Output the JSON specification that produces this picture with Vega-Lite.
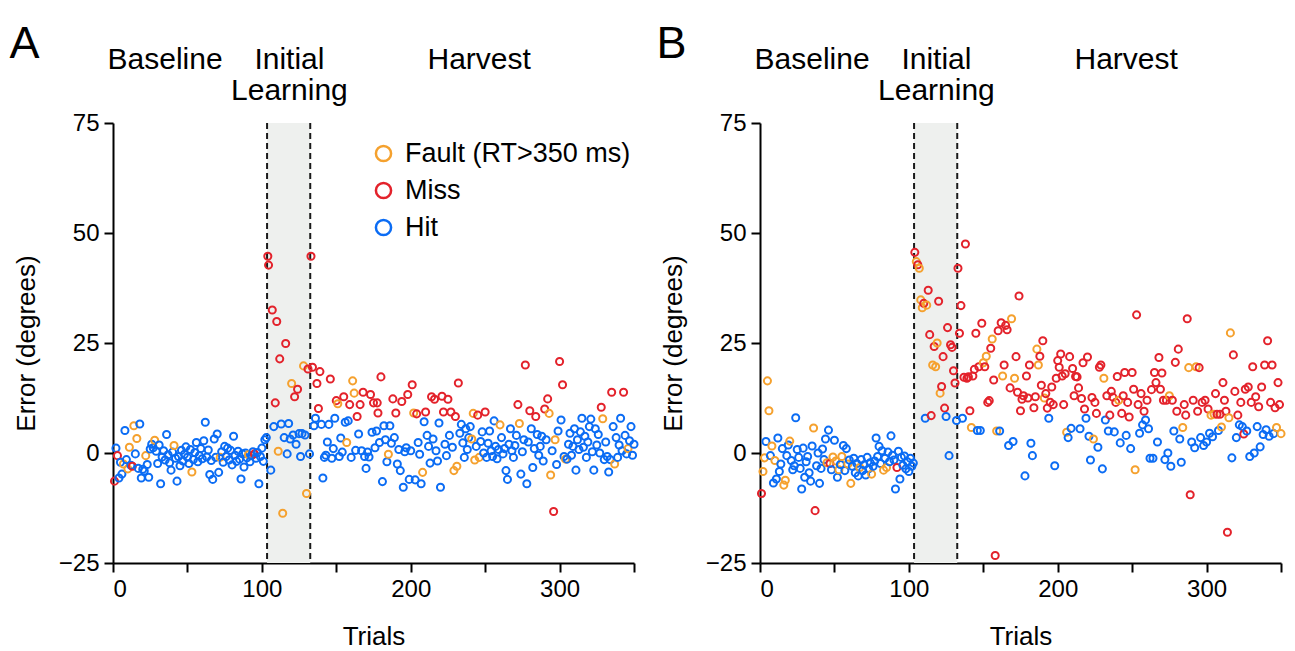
{
"$schema": "https://vega.github.io/schema/vega-lite/v6.json",
"padding": {"left": 9, "top": 21, "right": 10, "bottom": 5},
"config": {
  "font": "Liberation Sans",
  "view": {"stroke": null},
  "axis": {"domainColor": "black", "domainWidth": 2, "tickColor": "black", "tickWidth": 2, "tickSize": 9, "labelFont": "Liberation Sans", "labelFontSize": 24, "labelColor": "black", "titleFont": "Liberation Sans", "titleFontSize": 26, "titleColor": "black", "titleFontWeight": "normal", "grid": false, "labelPadding": 5},
  "axisY": {"titlePadding": 19},
  "axisX": {"titlePadding": 22},
  "legend": {"labelFont": "Liberation Sans", "labelFontSize": 27, "labelColor": "black", "labelLimit": 0, "symbolType": "circle", "symbolSize": 230, "symbolStrokeWidth": 2.5, "rowPadding": 9, "labelOffset": 8, "padding": 0}
},
"datasets": {
"A": [
{"t":1,"e":-6.4,"c":"M"},{"t":2,"e":1.1,"c":"H"},{"t":3,"e":-0.6,"c":"M"},{"t":4,"e":-5.7,"c":"H"},{"t":5,"e":-2.1,"c":"H"},{"t":6,"e":-4.8,"c":"H"},{"t":7,"e":-2.5,"c":"F"},{"t":8,"e":5.1,"c":"H"},{"t":9,"e":-1.5,"c":"H"},{"t":10,"e":-3.6,"c":"F"},
{"t":11,"e":1.3,"c":"F"},{"t":12,"e":-2.8,"c":"H"},{"t":13,"e":-3.0,"c":"M"},{"t":14,"e":6.2,"c":"F"},{"t":15,"e":-0.2,"c":"H"},{"t":16,"e":3.3,"c":"F"},{"t":17,"e":-3.5,"c":"H"},{"t":18,"e":6.6,"c":"H"},{"t":19,"e":-5.7,"c":"H"},{"t":20,"e":-3.7,"c":"H"},
{"t":21,"e":-4.1,"c":"H"},{"t":22,"e":-0.6,"c":"F"},{"t":23,"e":-2.6,"c":"H"},{"t":24,"e":-5.5,"c":"H"},{"t":25,"e":0.9,"c":"H"},{"t":26,"e":2.0,"c":"H"},{"t":27,"e":1.2,"c":"H"},{"t":28,"e":2.9,"c":"F"},{"t":29,"e":0.4,"c":"H"},{"t":30,"e":-2.4,"c":"H"},
{"t":31,"e":1.8,"c":"H"},{"t":32,"e":-7.0,"c":"H"},{"t":33,"e":-0.9,"c":"H"},{"t":34,"e":0.5,"c":"H"},{"t":35,"e":-1.6,"c":"H"},{"t":36,"e":4.2,"c":"H"},{"t":37,"e":-0.4,"c":"H"},{"t":38,"e":-2.2,"c":"H"},{"t":39,"e":-3.9,"c":"H"},{"t":40,"e":0.2,"c":"H"},
{"t":41,"e":1.7,"c":"F"},{"t":42,"e":-1.2,"c":"H"},{"t":43,"e":-6.4,"c":"H"},{"t":44,"e":-0.8,"c":"H"},{"t":45,"e":-2.9,"c":"H"},{"t":46,"e":0.6,"c":"H"},{"t":47,"e":-1.8,"c":"H"},{"t":48,"e":-0.3,"c":"H"},{"t":49,"e":1.4,"c":"H"},{"t":50,"e":-1.0,"c":"H"},
{"t":51,"e":-2.4,"c":"H"},{"t":52,"e":0.8,"c":"H"},{"t":53,"e":-4.3,"c":"F"},{"t":54,"e":-1.5,"c":"H"},{"t":55,"e":0.1,"c":"H"},{"t":56,"e":2.4,"c":"H"},{"t":57,"e":-2.0,"c":"H"},{"t":58,"e":-0.6,"c":"H"},{"t":59,"e":1.0,"c":"H"},{"t":60,"e":-1.3,"c":"H"},
{"t":61,"e":2.8,"c":"H"},{"t":62,"e":7.0,"c":"H"},{"t":63,"e":-0.9,"c":"H"},{"t":64,"e":0.7,"c":"H"},{"t":65,"e":-4.9,"c":"H"},{"t":66,"e":-1.7,"c":"H"},{"t":67,"e":-6.0,"c":"H"},{"t":68,"e":3.2,"c":"H"},{"t":69,"e":-1.0,"c":"H"},{"t":70,"e":4.3,"c":"H"},
{"t":71,"e":-4.4,"c":"H"},{"t":72,"e":-1.0,"c":"F"},{"t":73,"e":0.3,"c":"H"},{"t":74,"e":-2.1,"c":"H"},{"t":75,"e":1.5,"c":"H"},{"t":76,"e":-0.8,"c":"H"},{"t":77,"e":1.1,"c":"H"},{"t":78,"e":-1.6,"c":"H"},{"t":79,"e":0.6,"c":"H"},{"t":80,"e":-2.7,"c":"H"},
{"t":81,"e":3.8,"c":"H"},{"t":82,"e":-0.5,"c":"H"},{"t":83,"e":-1.9,"c":"H"},{"t":84,"e":0.4,"c":"H"},{"t":85,"e":-1.4,"c":"H"},{"t":86,"e":-5.9,"c":"H"},{"t":87,"e":-0.2,"c":"H"},{"t":88,"e":-3.2,"c":"H"},{"t":89,"e":0.0,"c":"H"},{"t":90,"e":-1.1,"c":"H"},
{"t":91,"e":-0.4,"c":"F"},{"t":92,"e":-2.0,"c":"H"},{"t":93,"e":-0.6,"c":"H"},{"t":94,"e":0.3,"c":"H"},{"t":95,"e":-0.2,"c":"M"},{"t":96,"e":-1.2,"c":"H"},{"t":97,"e":0.1,"c":"H"},{"t":98,"e":-7.0,"c":"H"},{"t":99,"e":-0.8,"c":"H"},{"t":100,"e":1.1,"c":"H"},
{"t":101,"e":-1.9,"c":"H"},{"t":102,"e":3.0,"c":"H"},{"t":103,"e":3.5,"c":"H"},
{"t":104,"e":44.7,"c":"M"},{"t":104.5,"e":42.7,"c":"M"},{"t":106,"e":-3.9,"c":"H"},{"t":107,"e":32.5,"c":"M"},{"t":108,"e":6.0,"c":"H"},{"t":109,"e":11.4,"c":"M"},{"t":110,"e":29.9,"c":"M"},{"t":111,"e":0.4,"c":"F"},{"t":112,"e":21.4,"c":"M"},{"t":113,"e":6.6,"c":"H"},
{"t":114,"e":-13.7,"c":"F"},{"t":115,"e":3.5,"c":"H"},{"t":116,"e":24.9,"c":"M"},{"t":117,"e":-0.2,"c":"H"},{"t":118,"e":6.7,"c":"H"},{"t":119,"e":3.2,"c":"H"},{"t":120,"e":15.8,"c":"F"},{"t":121,"e":4.1,"c":"H"},{"t":122,"e":12.8,"c":"M"},{"t":123,"e":2.0,"c":"H"},
{"t":124,"e":14.5,"c":"M"},{"t":125,"e":4.4,"c":"H"},{"t":126,"e":-0.8,"c":"H"},{"t":127,"e":4.4,"c":"H"},{"t":128,"e":19.8,"c":"F"},{"t":129,"e":4.1,"c":"H"},{"t":130,"e":-9.2,"c":"F"},{"t":131,"e":19.1,"c":"M"},{"t":132,"e":-0.2,"c":"H"},{"t":133,"e":44.7,"c":"M"},
{"t":134,"e":19.5,"c":"M"},{"t":135,"e":6.2,"c":"H"},{"t":136,"e":7.9,"c":"H"},{"t":137,"e":15.8,"c":"M"},{"t":138,"e":10.1,"c":"M"},{"t":139,"e":18.5,"c":"M"},{"t":140,"e":6.5,"c":"H"},{"t":141,"e":-5.7,"c":"H"},{"t":142,"e":-1.0,"c":"H"},{"t":143,"e":-0.5,"c":"H"},
{"t":144,"e":2.5,"c":"H"},{"t":145,"e":6.5,"c":"H"},{"t":146,"e":16.8,"c":"M"},{"t":147,"e":-1.2,"c":"H"},{"t":148,"e":1.0,"c":"H"},{"t":149,"e":7.9,"c":"H"},{"t":150,"e":11.9,"c":"M"},{"t":151,"e":11.2,"c":"F"},{"t":152,"e":-0.8,"c":"H"},{"t":153,"e":3.4,"c":"H"},
{"t":154,"e":0.2,"c":"H"},{"t":155,"e":12.8,"c":"M"},{"t":156,"e":7.0,"c":"H"},{"t":157,"e":2.4,"c":"F"},{"t":158,"e":7.3,"c":"H"},{"t":159,"e":11.0,"c":"M"},{"t":160,"e":-1.0,"c":"H"},{"t":161,"e":16.4,"c":"F"},{"t":162,"e":13.6,"c":"F"},{"t":163,"e":0.6,"c":"H"},
{"t":164,"e":8.3,"c":"M"},{"t":165,"e":4.3,"c":"H"},{"t":166,"e":11.0,"c":"M"},{"t":167,"e":0.5,"c":"H"},{"t":168,"e":13.8,"c":"M"},{"t":169,"e":-0.8,"c":"H"},{"t":170,"e":-3.5,"c":"H"},{"t":171,"e":0.2,"c":"H"},{"t":172,"e":-0.9,"c":"H"},{"t":173,"e":13.3,"c":"M"},
{"t":174,"e":4.7,"c":"H"},{"t":175,"e":11.4,"c":"M"},{"t":176,"e":1.2,"c":"H"},{"t":177,"e":5.0,"c":"H"},{"t":177.5,"e":11.4,"c":"M"},{"t":178,"e":9.1,"c":"M"},{"t":179,"e":2.4,"c":"H"},{"t":180,"e":17.3,"c":"M"},{"t":181,"e":-6.5,"c":"H"},{"t":182,"e":6.2,"c":"H"},
{"t":183,"e":3.0,"c":"H"},{"t":184,"e":-2.0,"c":"H"},{"t":185,"e":-0.3,"c":"F"},{"t":186,"e":6.2,"c":"H"},{"t":187,"e":2.2,"c":"H"},{"t":188,"e":12.3,"c":"M"},{"t":189,"e":3.5,"c":"H"},{"t":190,"e":9.1,"c":"M"},{"t":191,"e":-2.5,"c":"H"},{"t":192,"e":0.8,"c":"H"},
{"t":193,"e":-4.0,"c":"H"},{"t":194,"e":11.7,"c":"M"},{"t":195,"e":-7.8,"c":"H"},{"t":196,"e":0.3,"c":"H"},{"t":197,"e":1.2,"c":"H"},{"t":198,"e":13.3,"c":"M"},{"t":199,"e":-6.0,"c":"H"},{"t":200,"e":0.5,"c":"H"},{"t":201,"e":15.5,"c":"M"},{"t":202,"e":9.1,"c":"F"},
{"t":203,"e":-6.1,"c":"H"},{"t":204,"e":8.9,"c":"M"},{"t":205,"e":2.4,"c":"H"},{"t":206,"e":-0.3,"c":"H"},{"t":207,"e":-7.0,"c":"H"},{"t":208,"e":-4.4,"c":"F"},{"t":209,"e":7.1,"c":"H"},{"t":210,"e":9.3,"c":"M"},{"t":211,"e":4.0,"c":"H"},{"t":212,"e":1.5,"c":"H"},
{"t":213,"e":-2.3,"c":"H"},{"t":214,"e":12.8,"c":"M"},{"t":215,"e":3.2,"c":"H"},{"t":216,"e":12.2,"c":"M"},{"t":217,"e":0.5,"c":"H"},{"t":218,"e":-1.8,"c":"H"},{"t":219,"e":6.8,"c":"H"},{"t":220,"e":-7.8,"c":"H"},{"t":221,"e":12.9,"c":"M"},{"t":222,"e":9.3,"c":"M"},
{"t":223,"e":2.0,"c":"H"},{"t":224,"e":-0.6,"c":"H"},{"t":225,"e":12.2,"c":"M"},{"t":226,"e":4.0,"c":"H"},{"t":227,"e":9.3,"c":"M"},{"t":228,"e":1.3,"c":"H"},{"t":229,"e":-4.0,"c":"F"},{"t":230,"e":8.3,"c":"M"},{"t":231,"e":-3.0,"c":"F"},{"t":232,"e":15.9,"c":"M"},
{"t":233,"e":4.5,"c":"H"},{"t":234,"e":6.5,"c":"H"},{"t":235,"e":2.3,"c":"H"},{"t":236,"e":-1.0,"c":"H"},{"t":237,"e":5.5,"c":"H"},{"t":238,"e":0.8,"c":"H"},{"t":239,"e":3.5,"c":"H"},{"t":240,"e":6.0,"c":"H"},{"t":241,"e":3.2,"c":"F"},{"t":242,"e":9.0,"c":"F"},
{"t":243,"e":-1.6,"c":"F"},{"t":244,"e":1.5,"c":"H"},{"t":245,"e":8.6,"c":"M"},{"t":246,"e":-1.0,"c":"F"},{"t":247,"e":2.6,"c":"H"},{"t":248,"e":4.8,"c":"H"},{"t":249,"e":0.0,"c":"H"},{"t":250,"e":9.3,"c":"M"},{"t":251,"e":-1.0,"c":"H"},{"t":252,"e":2.2,"c":"H"},
{"t":253,"e":5.0,"c":"H"},{"t":254,"e":0.5,"c":"H"},{"t":255,"e":-0.8,"c":"H"},{"t":256,"e":7.3,"c":"H"},{"t":257,"e":1.5,"c":"H"},{"t":258,"e":-1.3,"c":"H"},{"t":259,"e":0.8,"c":"H"},{"t":260,"e":6.4,"c":"F"},{"t":261,"e":3.5,"c":"H"},{"t":262,"e":-0.2,"c":"H"},
{"t":263,"e":1.0,"c":"H"},{"t":264,"e":-4.0,"c":"H"},{"t":265,"e":-6.0,"c":"H"},{"t":266,"e":2.0,"c":"H"},{"t":267,"e":5.5,"c":"H"},{"t":268,"e":0.5,"c":"H"},{"t":269,"e":-1.0,"c":"H"},{"t":270,"e":1.7,"c":"H"},{"t":271,"e":4.0,"c":"H"},{"t":272,"e":11.0,"c":"M"},
{"t":273,"e":6.7,"c":"F"},{"t":274,"e":-4.8,"c":"H"},{"t":275,"e":0.3,"c":"H"},{"t":276,"e":3.0,"c":"H"},{"t":277,"e":20.0,"c":"M"},{"t":278,"e":-7.0,"c":"H"},{"t":279,"e":2.5,"c":"H"},{"t":280,"e":9.6,"c":"M"},{"t":281,"e":5.5,"c":"H"},{"t":282,"e":-3.3,"c":"H"},
{"t":283,"e":1.0,"c":"H"},{"t":284,"e":8.3,"c":"M"},{"t":285,"e":4.2,"c":"H"},{"t":286,"e":-0.5,"c":"H"},{"t":287,"e":1.5,"c":"H"},{"t":288,"e":3.8,"c":"H"},{"t":289,"e":-1.8,"c":"H"},{"t":290,"e":10.0,"c":"M"},{"t":291,"e":3.0,"c":"H"},{"t":292,"e":12.3,"c":"M"},
{"t":293,"e":9.0,"c":"F"},{"t":294,"e":-5.0,"c":"F"},{"t":295,"e":0.5,"c":"H"},{"t":296,"e":-13.3,"c":"M"},{"t":297,"e":3.0,"c":"F"},{"t":298,"e":-2.6,"c":"H"},{"t":299,"e":5.0,"c":"H"},{"t":300,"e":20.8,"c":"M"},{"t":301,"e":7.5,"c":"H"},{"t":302,"e":15.5,"c":"M"},
{"t":303,"e":-0.8,"c":"H"},{"t":304,"e":-1.4,"c":"F"},{"t":305,"e":-1.4,"c":"H"},{"t":306,"e":2.0,"c":"H"},{"t":307,"e":4.5,"c":"H"},{"t":308,"e":-0.5,"c":"H"},{"t":309,"e":1.5,"c":"H"},{"t":310,"e":5.5,"c":"H"},{"t":311,"e":-3.9,"c":"H"},{"t":312,"e":3.0,"c":"H"},
{"t":313,"e":0.8,"c":"H"},{"t":314,"e":4.8,"c":"H"},{"t":315,"e":7.9,"c":"H"},{"t":316,"e":1.3,"c":"H"},{"t":317,"e":3.8,"c":"H"},{"t":318,"e":-1.0,"c":"H"},{"t":319,"e":2.5,"c":"H"},{"t":320,"e":6.0,"c":"H"},{"t":321,"e":7.7,"c":"H"},{"t":322,"e":0.3,"c":"H"},
{"t":323,"e":-3.9,"c":"H"},{"t":324,"e":5.5,"c":"H"},{"t":325,"e":1.8,"c":"H"},{"t":326,"e":4.2,"c":"H"},{"t":327,"e":0.0,"c":"H"},{"t":328,"e":10.4,"c":"M"},{"t":329,"e":7.8,"c":"F"},{"t":330,"e":-1.5,"c":"H"},{"t":331,"e":2.5,"c":"H"},{"t":332,"e":-0.8,"c":"H"},
{"t":333,"e":-4.3,"c":"H"},{"t":334,"e":-1.5,"c":"H"},{"t":335,"e":13.8,"c":"M"},{"t":336,"e":6.0,"c":"H"},{"t":337,"e":-2.5,"c":"F"},{"t":338,"e":3.5,"c":"H"},{"t":339,"e":-1.0,"c":"H"},{"t":340,"e":1.8,"c":"H"},{"t":341,"e":7.9,"c":"H"},{"t":342,"e":0.5,"c":"H"},
{"t":343,"e":13.8,"c":"M"},{"t":344,"e":4.0,"c":"H"},{"t":345,"e":-0.2,"c":"H"},{"t":346,"e":1.0,"c":"F"},{"t":347,"e":2.8,"c":"H"},{"t":348,"e":6.0,"c":"H"},{"t":349,"e":-0.5,"c":"H"},{"t":350,"e":2.0,"c":"H"}
],
"B": [
{"t":1,"e":-9.2,"c":"M"},{"t":2,"e":-4.2,"c":"F"},{"t":3,"e":-1.1,"c":"F"},{"t":4,"e":2.6,"c":"H"},{"t":5,"e":16.4,"c":"F"},{"t":6,"e":9.6,"c":"F"},{"t":7,"e":-0.6,"c":"H"},{"t":8,"e":1.6,"c":"F"},{"t":9,"e":-6.8,"c":"H"},{"t":10,"e":-1.7,"c":"F"},
{"t":11,"e":-5.9,"c":"H"},{"t":12,"e":3.4,"c":"H"},{"t":13,"e":-4.2,"c":"H"},{"t":14,"e":-2.5,"c":"H"},{"t":15,"e":1.0,"c":"H"},{"t":16,"e":-7.3,"c":"F"},{"t":17,"e":-6.2,"c":"F"},{"t":18,"e":-0.6,"c":"H"},{"t":19,"e":1.8,"c":"H"},{"t":20,"e":2.7,"c":"F"},
{"t":21,"e":-1.7,"c":"H"},{"t":22,"e":-3.8,"c":"H"},{"t":23,"e":-2.9,"c":"H"},{"t":24,"e":8.0,"c":"H"},{"t":25,"e":0.8,"c":"H"},{"t":26,"e":-1.0,"c":"H"},{"t":27,"e":-3.5,"c":"H"},{"t":28,"e":-8.2,"c":"H"},{"t":29,"e":1.1,"c":"H"},{"t":30,"e":-5.5,"c":"H"},
{"t":31,"e":-2.0,"c":"H"},{"t":32,"e":-0.8,"c":"H"},{"t":33,"e":-4.5,"c":"H"},{"t":34,"e":-6.4,"c":"H"},{"t":35,"e":1.6,"c":"H"},{"t":36,"e":5.7,"c":"F"},{"t":37,"e":-13.1,"c":"M"},{"t":38,"e":-2.9,"c":"H"},{"t":39,"e":0.0,"c":"H"},{"t":40,"e":-6.9,"c":"H"},
{"t":41,"e":-3.5,"c":"H"},{"t":42,"e":0.9,"c":"H"},{"t":43,"e":-1.5,"c":"H"},{"t":44,"e":3.2,"c":"H"},{"t":45,"e":-2.2,"c":"F"},{"t":46,"e":5.2,"c":"H"},{"t":47,"e":-2.4,"c":"M"},{"t":48,"e":-3.8,"c":"H"},{"t":49,"e":-0.9,"c":"F"},{"t":50,"e":2.9,"c":"H"},
{"t":51,"e":-1.8,"c":"F"},{"t":52,"e":-5.5,"c":"H"},{"t":53,"e":-3.8,"c":"F"},{"t":54,"e":-2.6,"c":"H"},{"t":55,"e":-0.8,"c":"F"},{"t":56,"e":1.7,"c":"H"},{"t":57,"e":-4.0,"c":"H"},{"t":58,"e":1.0,"c":"H"},{"t":59,"e":-2.5,"c":"F"},{"t":60,"e":-1.6,"c":"H"},
{"t":61,"e":-6.9,"c":"F"},{"t":62,"e":-3.0,"c":"H"},{"t":63,"e":-1.2,"c":"H"},{"t":64,"e":-4.5,"c":"H"},{"t":65,"e":-2.4,"c":"H"},{"t":66,"e":-5.2,"c":"H"},{"t":67,"e":-3.3,"c":"F"},{"t":68,"e":-1.5,"c":"H"},{"t":69,"e":-4.0,"c":"H"},{"t":70,"e":-2.7,"c":"H"},
{"t":71,"e":-5.0,"c":"H"},{"t":72,"e":-1.0,"c":"H"},{"t":73,"e":-3.6,"c":"H"},{"t":74,"e":-2.2,"c":"H"},{"t":75,"e":-4.8,"c":"F"},{"t":76,"e":-3.0,"c":"H"},{"t":77,"e":-1.8,"c":"H"},{"t":78,"e":3.4,"c":"H"},{"t":79,"e":-0.8,"c":"H"},{"t":80,"e":1.5,"c":"H"},
{"t":81,"e":-2.4,"c":"H"},{"t":82,"e":0.5,"c":"H"},{"t":83,"e":-3.9,"c":"F"},{"t":84,"e":-1.2,"c":"H"},{"t":85,"e":-3.3,"c":"F"},{"t":86,"e":0.2,"c":"H"},{"t":87,"e":-2.0,"c":"H"},{"t":88,"e":3.9,"c":"H"},{"t":89,"e":-0.5,"c":"H"},{"t":90,"e":-1.6,"c":"H"},
{"t":91,"e":-8.2,"c":"H"},{"t":92,"e":-3.3,"c":"M"},{"t":93,"e":0.4,"c":"H"},{"t":94,"e":-5.9,"c":"H"},{"t":95,"e":-1.0,"c":"H"},{"t":96,"e":-2.8,"c":"H"},{"t":97,"e":-0.7,"c":"H"},{"t":98,"e":-3.6,"c":"H"},{"t":99,"e":-2.0,"c":"H"},{"t":100,"e":-4.2,"c":"H"},
{"t":101,"e":-1.2,"c":"H"},{"t":102,"e":-3.0,"c":"H"},{"t":103,"e":-2.3,"c":"H"},
{"t":104,"e":45.6,"c":"M"},{"t":105,"e":43.5,"c":"F"},{"t":106,"e":42.8,"c":"M"},{"t":107,"e":42.0,"c":"F"},{"t":108,"e":34.8,"c":"F"},{"t":109,"e":33.0,"c":"F"},{"t":110,"e":34.0,"c":"M"},{"t":111,"e":7.9,"c":"H"},{"t":112,"e":33.6,"c":"F"},{"t":113,"e":37.0,"c":"M"},
{"t":114,"e":26.9,"c":"M"},{"t":115,"e":8.5,"c":"M"},{"t":116,"e":20.0,"c":"F"},{"t":117,"e":24.2,"c":"M"},{"t":118,"e":19.6,"c":"F"},{"t":119,"e":25.0,"c":"F"},{"t":120,"e":34.5,"c":"M"},{"t":121,"e":13.6,"c":"F"},{"t":122,"e":15.1,"c":"M"},{"t":123,"e":21.9,"c":"M"},
{"t":124,"e":10.2,"c":"M"},{"t":125,"e":8.3,"c":"H"},{"t":126,"e":28.5,"c":"M"},{"t":127,"e":-0.6,"c":"H"},{"t":128,"e":24.6,"c":"M"},{"t":129,"e":24.0,"c":"M"},{"t":130,"e":18.7,"c":"M"},{"t":131,"e":15.9,"c":"M"},{"t":132,"e":7.4,"c":"H"},{"t":133,"e":42.0,"c":"M"},
{"t":134,"e":27.2,"c":"M"},{"t":135,"e":33.5,"c":"M"},{"t":136,"e":7.9,"c":"H"},{"t":137,"e":17.2,"c":"M"},{"t":138,"e":47.5,"c":"M"},{"t":139,"e":17.0,"c":"M"},{"t":140,"e":17.3,"c":"M"},{"t":141,"e":9.6,"c":"M"},{"t":142,"e":5.8,"c":"F"},{"t":143,"e":17.5,"c":"M"},
{"t":144,"e":19.0,"c":"M"},{"t":145,"e":27.2,"c":"M"},{"t":146,"e":5.1,"c":"H"},{"t":147,"e":19.6,"c":"M"},{"t":148,"e":5.1,"c":"H"},{"t":149,"e":29.5,"c":"M"},{"t":150,"e":20.5,"c":"F"},{"t":151,"e":19.6,"c":"M"},{"t":152,"e":22.0,"c":"F"},{"t":153,"e":11.5,"c":"M"},
{"t":154,"e":11.9,"c":"M"},{"t":155,"e":23.8,"c":"M"},{"t":156,"e":25.9,"c":"F"},{"t":157,"e":16.6,"c":"M"},{"t":158,"e":-23.3,"c":"M"},{"t":159,"e":5.0,"c":"F"},{"t":160,"e":27.8,"c":"M"},{"t":161,"e":5.0,"c":"H"},{"t":162,"e":29.6,"c":"M"},{"t":163,"e":17.5,"c":"F"},
{"t":164,"e":20.0,"c":"M"},{"t":165,"e":29.0,"c":"M"},{"t":166,"e":28.0,"c":"M"},{"t":167,"e":1.7,"c":"H"},{"t":168,"e":14.8,"c":"M"},{"t":169,"e":30.5,"c":"F"},{"t":170,"e":2.6,"c":"H"},{"t":171,"e":17.0,"c":"F"},{"t":172,"e":21.9,"c":"M"},{"t":173,"e":13.8,"c":"M"},
{"t":174,"e":35.7,"c":"M"},{"t":175,"e":9.6,"c":"M"},{"t":176,"e":12.2,"c":"M"},{"t":177,"e":13.0,"c":"M"},{"t":178,"e":-5.2,"c":"H"},{"t":179,"e":17.5,"c":"M"},{"t":180,"e":12.5,"c":"M"},{"t":181,"e":20.0,"c":"M"},{"t":182,"e":2.2,"c":"H"},{"t":183,"e":-0.6,"c":"H"},
{"t":184,"e":10.3,"c":"M"},{"t":185,"e":12.8,"c":"M"},{"t":186,"e":23.6,"c":"F"},{"t":187,"e":20.0,"c":"F"},{"t":188,"e":22.0,"c":"M"},{"t":189,"e":15.4,"c":"M"},{"t":190,"e":25.5,"c":"M"},{"t":191,"e":12.5,"c":"F"},{"t":192,"e":13.5,"c":"M"},{"t":193,"e":10.2,"c":"M"},
{"t":194,"e":7.9,"c":"H"},{"t":195,"e":11.5,"c":"M"},{"t":196,"e":15.0,"c":"M"},{"t":197,"e":11.0,"c":"M"},{"t":198,"e":-2.9,"c":"H"},{"t":199,"e":17.0,"c":"M"},{"t":200,"e":21.0,"c":"M"},{"t":201,"e":19.5,"c":"M"},{"t":202,"e":22.5,"c":"M"},{"t":203,"e":17.5,"c":"M"},
{"t":204,"e":11.0,"c":"M"},{"t":205,"e":18.0,"c":"M"},{"t":206,"e":4.7,"c":"F"},{"t":207,"e":3.5,"c":"H"},{"t":208,"e":21.9,"c":"M"},{"t":209,"e":5.6,"c":"H"},{"t":210,"e":19.2,"c":"M"},{"t":211,"e":13.0,"c":"M"},{"t":212,"e":17.4,"c":"M"},{"t":213,"e":17.3,"c":"M"},
{"t":214,"e":14.8,"c":"M"},{"t":215,"e":5.5,"c":"H"},{"t":216,"e":12.4,"c":"M"},{"t":217,"e":20.5,"c":"M"},{"t":218,"e":10.0,"c":"M"},{"t":219,"e":7.9,"c":"H"},{"t":220,"e":21.8,"c":"M"},{"t":221,"e":3.8,"c":"H"},{"t":222,"e":-1.6,"c":"H"},{"t":223,"e":12.6,"c":"M"},
{"t":224,"e":3.2,"c":"F"},{"t":225,"e":11.5,"c":"M"},{"t":226,"e":9.0,"c":"M"},{"t":227,"e":1.3,"c":"H"},{"t":228,"e":19.5,"c":"M"},{"t":229,"e":20.0,"c":"M"},{"t":230,"e":-3.6,"c":"H"},{"t":231,"e":17.0,"c":"F"},{"t":232,"e":7.5,"c":"H"},{"t":233,"e":13.0,"c":"M"},
{"t":234,"e":5.0,"c":"H"},{"t":235,"e":8.6,"c":"M"},{"t":236,"e":14.0,"c":"M"},{"t":237,"e":12.7,"c":"M"},{"t":238,"e":4.8,"c":"H"},{"t":239,"e":11.5,"c":"M"},{"t":240,"e":17.4,"c":"M"},{"t":241,"e":12.0,"c":"F"},{"t":242,"e":2.3,"c":"H"},{"t":243,"e":9.0,"c":"M"},
{"t":244,"e":13.0,"c":"M"},{"t":245,"e":18.3,"c":"M"},{"t":246,"e":4.0,"c":"H"},{"t":247,"e":11.5,"c":"M"},{"t":248,"e":8.2,"c":"M"},{"t":249,"e":1.0,"c":"H"},{"t":250,"e":18.3,"c":"M"},{"t":251,"e":14.5,"c":"M"},{"t":252,"e":-3.8,"c":"F"},{"t":253,"e":31.4,"c":"M"},
{"t":254,"e":11.0,"c":"M"},{"t":255,"e":4.5,"c":"H"},{"t":256,"e":13.5,"c":"M"},{"t":257,"e":6.4,"c":"H"},{"t":258,"e":9.5,"c":"M"},{"t":259,"e":7.5,"c":"H"},{"t":260,"e":12.0,"c":"M"},{"t":261,"e":5.5,"c":"H"},{"t":262,"e":-1.2,"c":"H"},{"t":263,"e":14.4,"c":"M"},
{"t":264,"e":-1.2,"c":"H"},{"t":265,"e":18.3,"c":"M"},{"t":266,"e":16.0,"c":"M"},{"t":267,"e":2.5,"c":"H"},{"t":268,"e":21.7,"c":"M"},{"t":269,"e":14.5,"c":"M"},{"t":270,"e":18.2,"c":"M"},{"t":271,"e":12.0,"c":"M"},{"t":272,"e":-1.5,"c":"H"},{"t":273,"e":12.0,"c":"M"},
{"t":274,"e":0.0,"c":"H"},{"t":275,"e":13.0,"c":"F"},{"t":276,"e":-3.0,"c":"H"},{"t":277,"e":12.0,"c":"M"},{"t":278,"e":5.0,"c":"H"},{"t":279,"e":20.6,"c":"M"},{"t":280,"e":9.5,"c":"M"},{"t":281,"e":23.6,"c":"M"},{"t":282,"e":3.2,"c":"H"},{"t":283,"e":-2.1,"c":"H"},
{"t":284,"e":5.8,"c":"F"},{"t":285,"e":11.0,"c":"M"},{"t":286,"e":8.6,"c":"M"},{"t":287,"e":30.5,"c":"M"},{"t":288,"e":19.4,"c":"F"},{"t":289,"e":-9.5,"c":"M"},{"t":290,"e":2.5,"c":"H"},{"t":291,"e":12.0,"c":"M"},{"t":292,"e":1.2,"c":"H"},{"t":293,"e":19.6,"c":"F"},
{"t":294,"e":9.5,"c":"M"},{"t":295,"e":19.4,"c":"M"},{"t":296,"e":3.5,"c":"H"},{"t":297,"e":11.5,"c":"M"},{"t":298,"e":1.7,"c":"H"},{"t":299,"e":12.0,"c":"M"},{"t":300,"e":2.5,"c":"H"},{"t":301,"e":10.0,"c":"M"},{"t":302,"e":4.5,"c":"H"},{"t":303,"e":8.6,"c":"F"},
{"t":304,"e":3.7,"c":"H"},{"t":305,"e":8.8,"c":"F"},{"t":306,"e":13.5,"c":"M"},{"t":307,"e":8.8,"c":"M"},{"t":308,"e":5.1,"c":"H"},{"t":309,"e":8.8,"c":"M"},{"t":310,"e":5.9,"c":"F"},{"t":311,"e":16.0,"c":"M"},{"t":312,"e":12.0,"c":"M"},{"t":313,"e":9.5,"c":"M"},
{"t":314,"e":-18.0,"c":"M"},{"t":315,"e":8.0,"c":"F"},{"t":316,"e":27.3,"c":"F"},{"t":317,"e":-1.1,"c":"H"},{"t":318,"e":22.3,"c":"M"},{"t":319,"e":14.0,"c":"M"},{"t":320,"e":3.5,"c":"H"},{"t":321,"e":8.6,"c":"M"},{"t":322,"e":6.4,"c":"H"},{"t":323,"e":11.5,"c":"M"},
{"t":324,"e":6.0,"c":"H"},{"t":325,"e":4.3,"c":"M"},{"t":326,"e":14.5,"c":"M"},{"t":327,"e":5.0,"c":"H"},{"t":328,"e":15.0,"c":"M"},{"t":329,"e":-0.8,"c":"H"},{"t":330,"e":11.5,"c":"M"},{"t":331,"e":19.6,"c":"M"},{"t":332,"e":0.0,"c":"H"},{"t":333,"e":12.8,"c":"M"},
{"t":334,"e":6.0,"c":"H"},{"t":335,"e":10.5,"c":"M"},{"t":336,"e":1.4,"c":"H"},{"t":337,"e":15.0,"c":"M"},{"t":338,"e":4.2,"c":"H"},{"t":339,"e":20.0,"c":"M"},{"t":340,"e":5.3,"c":"H"},{"t":341,"e":25.5,"c":"M"},{"t":342,"e":3.8,"c":"H"},{"t":343,"e":11.5,"c":"M"},
{"t":344,"e":20.0,"c":"M"},{"t":345,"e":4.4,"c":"H"},{"t":346,"e":10.3,"c":"M"},{"t":347,"e":5.8,"c":"F"},{"t":348,"e":16.0,"c":"M"},{"t":349,"e":11.0,"c":"M"},{"t":350,"e":4.4,"c":"F"}
],
"phases": [
{"t":35,"y":87.3,"s":["Baseline"]},{"t":118.5,"y":87.3,"s":["Initial","Learning"]},{"t":246,"y":87.3,"s":["Harvest"]}
],
"shade": [{"a":103.5,"b":132.5}],
"lines": [{"x":103.5},{"x":132.5}]
},
"spacing": 126,
"bounds": "flush",
"resolve": {"scale": {"color": "independent"}},
"hconcat": [
{
 "width": 521, "height": 440,
 "encoding": {
  "x": {"type": "quantitative", "scale": {"domain": [0, 350], "nice": false, "zero": false}, "axis": {"values": [0, 50, 100, 150, 200, 250, 300, 350], "labelExpr": "datum.value % 100 === 0 ? datum.label : ''", "title": "Trials"}},
  "y": {"type": "quantitative", "scale": {"domain": [-25, 75], "nice": false, "zero": false}, "axis": {"values": [-25, 0, 25, 50, 75], "labelExpr": "datum.value < 0 ? '\u2212' + abs(datum.value) : datum.label", "title": "Error (degrees)"}}
 },
 "layer": [
  {"data": {"name": "shade"}, "mark": {"type": "rect", "color": "#eef0ee"},
   "encoding": {"x": {"field": "a"}, "x2": {"field": "b"}, "y": {"datum": 75}, "y2": {"datum": -25}}},
  {"data": {"name": "lines"}, "mark": {"type": "rule", "color": "#1a1a1a", "strokeWidth": 2, "strokeDash": [6, 4]},
   "encoding": {"x": {"field": "x"}, "y": {"datum": 75}, "y2": {"datum": -25}}},
  {"data": {"name": "A"}, "mark": {"type": "point", "filled": false, "size": 50, "strokeWidth": 2, "opacity": 1},
   "encoding": {
    "x": {"field": "t"},
    "y": {"field": "e"},
    "color": {"field": "c", "type": "nominal", "scale": {"domain": ["F", "M", "H"], "range": ["#f5a12e", "#e3222b", "#0b6cf4"]},
      "legend": {"title": null, "orient": "none", "legendX": 257, "legendY": 17, "labelExpr": "datum.label == 'F' ? 'Fault (RT>350 ms)' : datum.label == 'M' ? 'Miss' : 'Hit'"}}
   }},
  {"data": {"name": "phases"}, "mark": {"type": "text", "fontSize": 30, "baseline": "alphabetic", "align": "center", "color": "black", "lineHeight": 31},
   "encoding": {"x": {"field": "t"}, "y": {"field": "y"}, "text": {"field": "s"}}},
  {"data": {"values": [{"t": -59.5, "y": 89.8, "s": "A"}]}, "mark": {"type": "text", "fontSize": 45, "baseline": "alphabetic", "align": "center", "color": "black"},
   "encoding": {"x": {"field": "t"}, "y": {"field": "y"}, "text": {"field": "s"}}}
 ]
},
{
 "width": 521, "height": 440,
 "encoding": {
  "x": {"type": "quantitative", "scale": {"domain": [0, 350], "nice": false, "zero": false}, "axis": {"values": [0, 50, 100, 150, 200, 250, 300, 350], "labelExpr": "datum.value % 100 === 0 ? datum.label : ''", "title": "Trials"}},
  "y": {"type": "quantitative", "scale": {"domain": [-25, 75], "nice": false, "zero": false}, "axis": {"values": [-25, 0, 25, 50, 75], "labelExpr": "datum.value < 0 ? '\u2212' + abs(datum.value) : datum.label", "title": "Error (degrees)"}}
 },
 "layer": [
  {"data": {"name": "shade"}, "mark": {"type": "rect", "color": "#eef0ee"},
   "encoding": {"x": {"field": "a"}, "x2": {"field": "b"}, "y": {"datum": 75}, "y2": {"datum": -25}}},
  {"data": {"name": "lines"}, "mark": {"type": "rule", "color": "#1a1a1a", "strokeWidth": 2, "strokeDash": [6, 4]},
   "encoding": {"x": {"field": "x"}, "y": {"datum": 75}, "y2": {"datum": -25}}},
  {"data": {"name": "B"}, "mark": {"type": "point", "filled": false, "size": 50, "strokeWidth": 2, "opacity": 1},
   "encoding": {
    "x": {"field": "t"},
    "y": {"field": "e"},
    "color": {"field": "c", "type": "nominal", "scale": {"domain": ["F", "M", "H"], "range": ["#f5a12e", "#e3222b", "#0b6cf4"]}, "legend": null}
   }},
  {"data": {"name": "phases"}, "mark": {"type": "text", "fontSize": 30, "baseline": "alphabetic", "align": "center", "color": "black", "lineHeight": 31},
   "encoding": {"x": {"field": "t"}, "y": {"field": "y"}, "text": {"field": "s"}}},
  {"data": {"values": [{"t": -59.5, "y": 89.8, "s": "B"}]}, "mark": {"type": "text", "fontSize": 45, "baseline": "alphabetic", "align": "center", "color": "black"},
   "encoding": {"x": {"field": "t"}, "y": {"field": "y"}, "text": {"field": "s"}}}
 ]
}
]
}
